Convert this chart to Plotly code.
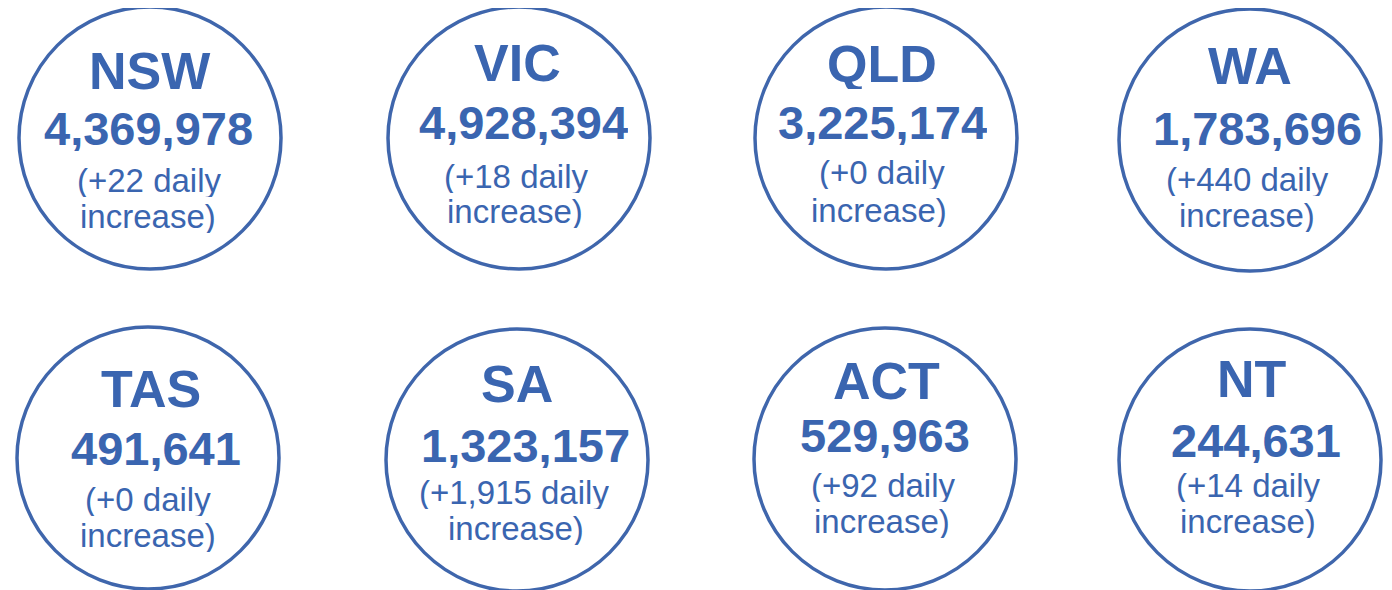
import plotly.graph_objects as go

# Données : cas / vaccinations par état
states = ["NSW", "VIC", "QLD", "WA", "TAS", "SA", "ACT", "NT"]
totals = [4369978, 4928394, 3225174, 1783696, 491641, 1323157, 529963, 244631]
daily_increase = [22, 18, 0, 440, 0, 1915, 92, 14]

# Mise en page (pixels) : centres des cercles et position des lignes de texte
circle_x = [150, 519, 886, 1250, 148, 517, 885, 1250]
circle_y = [138, 138, 138, 140, 458, 460, 459, 460]
radius = 131
title_y = [71, 63, 64, 66, 389, 384, 381, 379]
total_y = [128, 122, 122, 128, 448, 445, 435, 440]
daily_y = [180, 176, 172, 179, 499, 492, 485, 485]
incr_y = [216, 211, 210, 215, 535, 528, 521, 521]
title_x = [150, 517, 882, 1250, 151, 517, 886, 1252]
total_x = [148, 523, 882, 1257, 156, 525, 885, 1256]
daily_x = [149, 516, 882, 1247, 148, 514, 883, 1248]
incr_x = [148, 515, 879, 1247, 148, 516, 882, 1248]

BLUE = "#3A65B0"
LINE = "#3F66AC"
FONT = "Liberation Sans, Arial, sans-serif"
OFF = 8  # marge par défaut du <body> dans la page HTML

fig = go.Figure()

for i, st in enumerate(states):
    cx, cy = circle_x[i], circle_y[i]
    fig.add_shape(
        type="circle", xref="x", yref="y",
        x0=cx - radius, x1=cx + radius, y0=cy - radius, y1=cy + radius,
        line=dict(color=LINE, width=3.5), fillcolor="white", layer="below",
    )
    # (x, y, texte, taille, hauteur de boîte)
    lines = [
        (title_x[i], title_y[i], f"<b>{st}</b>", 52, 50),
        (total_x[i], total_y[i], f"<b>{totals[i]:,}</b>", 47, 46),
        (daily_x[i], daily_y[i], f"(+{daily_increase[i]:,} daily", 33, 33),
        (incr_x[i], incr_y[i], "increase)", 33, 33),
    ]
    for x, y, txt, size, h in lines:
        fig.add_annotation(
            x=x, y=y, xref="x", yref="y", text=txt, showarrow=False,
            xanchor="center", yanchor="middle", height=h,
            font=dict(family=FONT, size=size, color=BLUE),
        )

fig.update_layout(
    width=1392,
    height=590,
    margin=dict(l=0, r=0, t=0, b=0),
    plot_bgcolor="white",
    paper_bgcolor="white",
    xaxis=dict(range=[OFF, 1392 + OFF], visible=False, fixedrange=True),
    yaxis=dict(range=[590 + OFF, OFF], visible=False, fixedrange=True),
    showlegend=False,
)

fig.write_html("out.html")
